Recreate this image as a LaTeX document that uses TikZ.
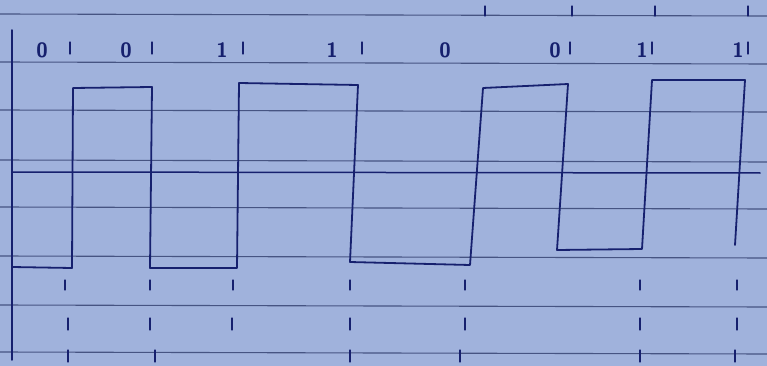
\documentclass[tikz,border=0pt]{standalone}
\begin{document}
\begin{tikzpicture}[x=1pt,y=-1pt,
  ink/.style={draw=inkc, line width=1.8pt, line join=round, line cap=round},
  rule/.style={draw=rulec, line width=1.1pt},
  tick/.style={draw=inkc, line width=1.2pt, line cap=round},
  lbl/.style={text=inkc, font=\huge\sffamily\bfseries, inner sep=0pt}]
\definecolor{paper}{RGB}{160,178,220}
\definecolor{inkc}{RGB}{22,32,110}
\definecolor{rulec}{RGB}{70,84,130}
\fill[paper] (0,0) rectangle (767,366);
\useasboundingbox (0,0) rectangle (767,366);
% ruled lines
\foreach \y in {14,62,110,160,207,256,305,352}
  \draw[rule] (0,\y) -- (767,\y+2);
% margin / vertical axis
\draw[ink, line width=1.5pt] (12,30) -- (12,360);
% time axis
\draw[ink, line width=1.5pt] (12,172) -- (760,173);
% signal
\draw[ink] (12,267) -- (72,268) -- (73,88) -- (152,87) -- (150,268) -- (237,268)
  -- (239,83) -- (358,85) -- (350,262) -- (470,265) -- (483,88) -- (568,84)
  -- (557,250) -- (642,249) -- (652,80) -- (745,80) -- (735,245);
% bit labels
\foreach \x/\t in {42/0,126/0,222/1,332/1,445/0,555/0,642/1,738/1}
  \node[lbl] at (\x,50) {\t};
% boundary ticks near labels
\foreach \x in {70,152,243,362,570,652,748}
  \draw[tick] (\x,42) -- (\x,54);
% ticks above top line
\foreach \x in {485,572,655,748}
  \draw[tick] (\x,6) -- (\x,16);
% boundary ticks below
\foreach \x in {65,150,233,350,465,640,737}
  \draw[tick] (\x,280) -- (\x,290);
\foreach \x in {68,150,232,350,465,640,737}
  \draw[tick] (\x,318) -- (\x,330);
\foreach \x in {68,155,350,460,640,735}
  \draw[tick] (\x,350) -- (\x,362);
\end{tikzpicture}
\end{document}
